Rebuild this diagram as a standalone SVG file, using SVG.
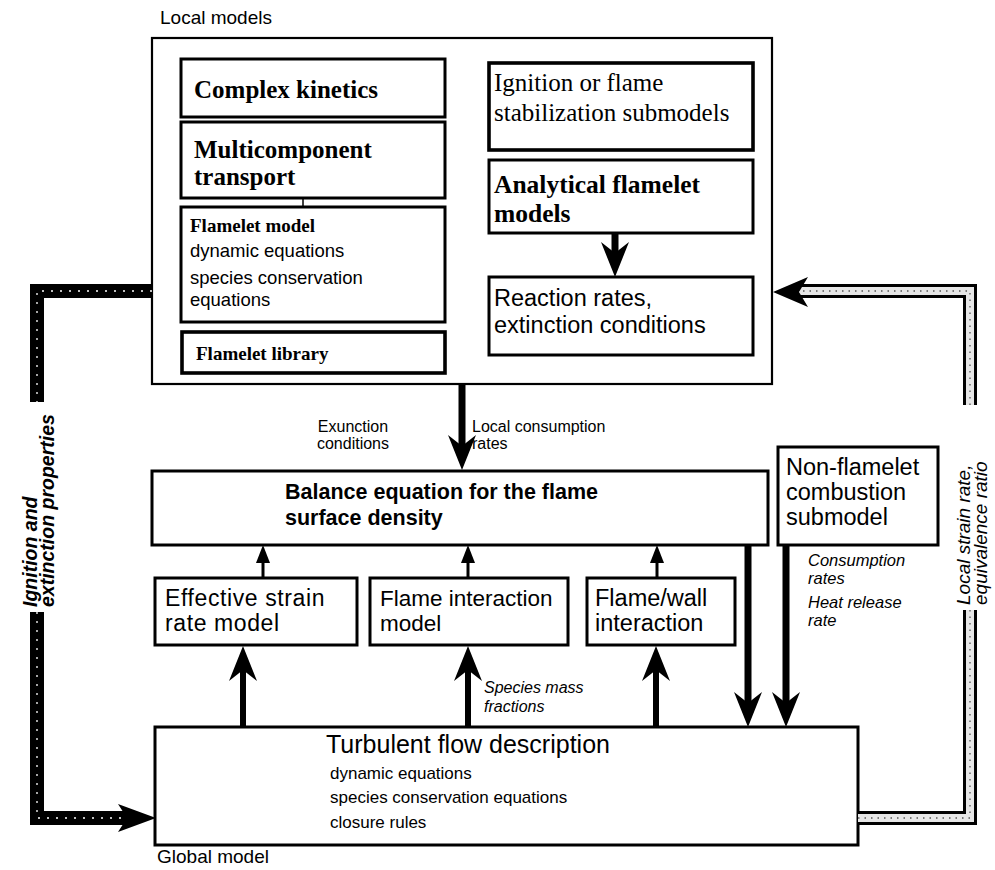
<svg xmlns="http://www.w3.org/2000/svg" xmlns:xlink="http://www.w3.org/1999/xlink" width="995" height="870" viewBox="0 0 995 870">
<style>
.box{fill:#fff;stroke:#000;stroke-width:3}
.thin{stroke-width:2.2}
.thick{stroke-width:3.6}
.sb{font-family:"Liberation Serif",serif;font-weight:bold;fill:#000}
.sr{font-family:"Liberation Serif",serif;fill:#000}
.ss{font-family:"Liberation Sans",sans-serif;fill:#000}
.ssb{font-family:"Liberation Sans",sans-serif;font-weight:bold;fill:#000}
.si{font-family:"Liberation Sans",sans-serif;font-style:italic;fill:#000}
.sbi{font-family:"Liberation Sans",sans-serif;font-style:italic;font-weight:bold;fill:#000}
.shaft{stroke:#000;fill:none}
.band{fill:none;stroke:#000;stroke-width:14}
.bandL{fill:none;stroke:#fff;stroke-width:1.3;stroke-dasharray:2 7}
.bandR{fill:none;stroke:#e6e6e6;stroke-width:8}
.bandRd{fill:none;stroke:#555;stroke-width:1.3;stroke-dasharray:1.5 5}
</style>
<defs>
<path id="hd" d="M0,0 L-14,-35 L0,-24 L14,-35 Z" fill="#000"/>
<path id="tri" d="M0,0 L-7,18 L7,18 Z" fill="#000"/>
</defs>
<rect width="995" height="870" fill="#fff"/>

<g id="local-models">
<text class="ss" x="160" y="24" font-size="19">Local models</text>
<rect class="box thin" x="152" y="38" width="620" height="346"/>
</g>

<g id="complex-kinetics">
<rect class="box" x="181" y="59" width="264" height="58"/>
<text class="sb" x="194" y="98" font-size="25">Complex kinetics</text>
</g>

<g id="multicomponent-transport">
<rect class="box" x="181" y="122" width="264" height="76"/>
<text class="sb" x="194" y="158" font-size="25">Multicomponent</text>
<text class="sb" x="194" y="185" font-size="25">transport</text>
</g>

<g id="flamelet-model">
<rect class="box" x="181" y="207" width="264" height="115"/>
<text class="sb" x="190" y="232" font-size="19">Flamelet model</text>
<text class="ss" x="190" y="257" font-size="18.5">dynamic equations</text>
<text class="ss" x="190" y="284" font-size="18.5">species conservation</text>
<text class="ss" x="190" y="306" font-size="18.5">equations</text>
</g>

<g id="flamelet-library">
<rect class="box thick" x="182" y="332" width="263" height="41"/>
<text class="sb" x="196" y="360" font-size="19">Flamelet library</text>
</g>

<g id="ignition-submodels">
<rect class="box thick" x="489" y="63" width="264" height="87"/>
<text class="sr" x="494" y="91" font-size="25">Ignition or flame</text>
<text class="sr" x="494" y="121" font-size="25">stabilization submodels</text>
</g>

<g id="analytical-flamelet">
<rect class="box" x="489" y="160" width="264" height="73"/>
<text class="sb" x="494" y="193" font-size="25.5">Analytical flamelet</text>
<text class="sb" x="494" y="222" font-size="25.5">models</text>
</g>

<g id="reaction-rates">
<rect class="box" x="489" y="277" width="264" height="78"/>
<text class="ss" x="494" y="306" font-size="23.5">Reaction rates,</text>
<text class="ss" x="494" y="333" font-size="23.5">extinction conditions</text>
</g>

<g id="balance-equation">
<rect class="box" x="152" y="471" width="616" height="74"/>
<text class="ssb" x="285" y="499" font-size="21.5">Balance equation for the flame</text>
<text class="ssb" x="285" y="525" font-size="21.5">surface density</text>
</g>

<g id="non-flamelet">
<rect class="box" x="778" y="447" width="160" height="98"/>
<text class="ss" x="786" y="475" font-size="23.5">Non-flamelet</text>
<text class="ss" x="786" y="500" font-size="23.5">combustion</text>
<text class="ss" x="786" y="525" font-size="23.5">submodel</text>
</g>

<g id="effective-strain">
<rect class="box" x="155" y="578" width="202" height="67"/>
<text class="ss" x="165" y="606" font-size="23" letter-spacing="0.6">Effective strain</text>
<text class="ss" x="165" y="631" font-size="23" letter-spacing="0.6">rate model</text>
</g>

<g id="flame-interaction">
<rect class="box" x="370" y="578" width="198" height="67"/>
<text class="ss" x="380" y="606" font-size="22.5">Flame interaction</text>
<text class="ss" x="380" y="631" font-size="22.5">model</text>
</g>

<g id="flame-wall">
<rect class="box" x="587" y="578" width="148" height="67"/>
<text class="ss" x="595" y="606" font-size="23.5">Flame/wall</text>
<text class="ss" x="595" y="631" font-size="23.5">interaction</text>
</g>

<g id="turbulent-flow">
<rect class="box" x="155" y="727" width="703" height="118"/>
<text class="ss" x="326" y="753" font-size="25">Turbulent flow description</text>
<text class="ss" x="330" y="779" font-size="17">dynamic equations</text>
<text class="ss" x="330" y="803" font-size="17">species conservation equations</text>
<text class="ss" x="330" y="828" font-size="17">closure rules</text>
<text class="ss" x="157" y="863" font-size="19">Global model</text>
</g>

<g id="connectors">
<line class="shaft" x1="303" y1="198" x2="303" y2="207" stroke-width="1.5"/>
<line class="shaft" x1="615" y1="233" x2="615" y2="256" stroke-width="7"/>
<use xlink:href="#hd" transform="translate(615,277)"/>
<line class="shaft" x1="462" y1="384" x2="462" y2="448" stroke-width="7"/>
<use xlink:href="#hd" transform="translate(462,470)"/>
<text class="ss" x="353" y="432" font-size="16" text-anchor="middle">Exunction</text>
<text class="ss" x="353" y="449" font-size="16" text-anchor="middle">conditions</text>
<text class="ss" x="472" y="432" font-size="16">Local consumption</text>
<text class="ss" x="472" y="449" font-size="16">rates</text>
<use xlink:href="#tri" transform="translate(263,545)"/>
<line class="shaft" x1="263" y1="562" x2="263" y2="578" stroke-width="3"/>
<use xlink:href="#tri" transform="translate(468,545)"/>
<line class="shaft" x1="468" y1="562" x2="468" y2="578" stroke-width="3"/>
<use xlink:href="#tri" transform="translate(657,545)"/>
<line class="shaft" x1="657" y1="562" x2="657" y2="578" stroke-width="3"/>
<line class="shaft" x1="243" y1="727" x2="243" y2="668" stroke-width="6"/>
<use xlink:href="#hd" transform="translate(243,646) rotate(180)"/>
<line class="shaft" x1="468" y1="727" x2="468" y2="668" stroke-width="6"/>
<use xlink:href="#hd" transform="translate(468,646) rotate(180)"/>
<line class="shaft" x1="656" y1="727" x2="656" y2="668" stroke-width="6"/>
<use xlink:href="#hd" transform="translate(656,646) rotate(180)"/>
<text class="si" x="484" y="693" font-size="16">Species mass</text>
<text class="si" x="484" y="712" font-size="16">fractions</text>
<line class="shaft" x1="748" y1="545" x2="748" y2="705" stroke-width="7"/>
<use xlink:href="#hd" transform="translate(748,727)"/>
<line class="shaft" x1="786" y1="545" x2="786" y2="705" stroke-width="7"/>
<use xlink:href="#hd" transform="translate(786,727)"/>
<text class="si" x="808" y="566" font-size="16.5">Consumption</text>
<text class="si" x="808" y="584" font-size="16.5">rates</text>
<text class="si" x="808" y="608" font-size="16.5">Heat release</text>
<text class="si" x="808" y="626" font-size="16.5">rate</text>
<path class="band" d="M152,291 H37 V402 M37,612 V818 H130"/>
<path class="bandL" d="M152,291 H37 V402 M37,612 V818 H130"/>
<path d="M156,818 L118,804 L127,818 L118,832 Z" fill="#000"/>
<g transform="translate(37,607) rotate(-90)">
<text class="sbi" x="0" y="0" font-size="19.5">Ignition and</text>
<text class="sbi" x="0" y="17" font-size="19.5">extinction properties</text>
</g>
<path class="band" d="M858,818 H970 V610 M970,405 V291 H800"/>
<path class="bandR" d="M858,818 H970 V610 M970,405 V291 H800"/>
<path class="bandRd" d="M858,818 H970 V610 M970,405 V291 H800"/>
<path d="M773,292 L808,277 L799,292 L808,307 Z" fill="#000"/>
<g transform="translate(970,605) rotate(-90)">
<text class="si" x="0" y="0" font-size="19">Local strain rate,</text>
<text class="si" x="0" y="17" font-size="19">equivalence ratio</text>
</g>
</g>
</svg>
